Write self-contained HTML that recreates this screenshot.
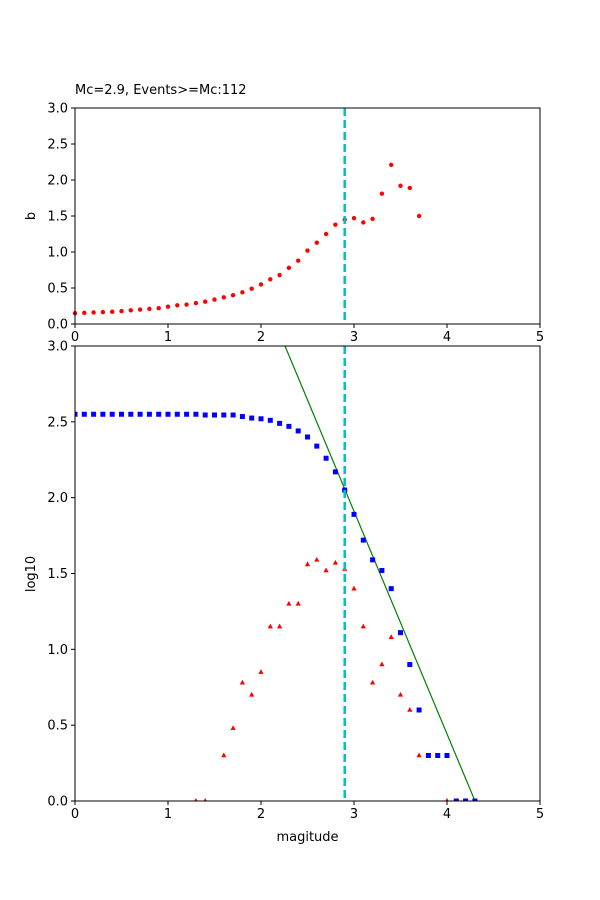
<!DOCTYPE html>
<html><head><meta charset="utf-8"><style>
body{margin:0;background:#fff;}
svg{display:block;font-family:"DejaVu Sans","Liberation Sans",sans-serif;}
text{font-size:13px;fill:#000;}
</style></head><body>
<svg id="s" width="600" height="900" xmlns="http://www.w3.org/2000/svg">
<rect width="600" height="900" fill="#fff"/>
<g id="top"></g><g id="bot"></g>
<text x="75" y="94" style="font-size:13px">Mc=2.9, Events&gt;=Mc:112</text>
<text transform="translate(35,216) rotate(-90)" text-anchor="middle">b</text>
<text transform="translate(35,574) rotate(-90)" text-anchor="middle">log10</text>
<text x="307.5" y="841" text-anchor="middle">magitude</text>
</svg>
<script>
const NS="http://www.w3.org/2000/svg",s=document.getElementById('s');
function el(t,a,p){const e=document.createElementNS(NS,t);for(const k in a)e.setAttribute(k,a[k]);(p||s).appendChild(e);return e;}
const X=v=>75+v*93;
function axes(y0,y1,ticks){ // y0 top px(3.0), y1 bottom px(0)
 const Y=v=>y1-(y1-y0)*v/3;
 for(let i=0;i<=5;i++){el('line',{x1:X(i),x2:X(i),y1:y1,y2:y1+4,stroke:'#000'});const t=el('text',{x:X(i),y:y1+17,'text-anchor':'middle'});t.textContent=i;}
 for(let v=0;v<=3.001;v+=0.5){el('line',{x1:71,x2:75,y1:Y(v),y2:Y(v),stroke:'#000'});const t=el('text',{x:68,y:Y(v)+4.5,'text-anchor':'end'});t.textContent=v.toFixed(1);}
 return Y;
}
const Yt=axes(108,324);
const b=[0.15,0.155,0.16,0.165,0.17,0.18,0.19,0.2,0.21,0.22,0.24,0.26,0.27,0.29,0.31,0.34,0.37,0.40,0.44,0.49,0.55,0.62,0.68,0.78,0.88,1.02,1.13,1.25,1.38,1.45,1.47,1.41,1.46,1.81,2.21,1.92,1.89,1.50];
b.forEach((v,i)=>el('circle',{cx:X(i/10),cy:Yt(v),r:2.2,fill:'red'}));
el('line',{x1:X(2.9),x2:X(2.9),y1:108,y2:324,stroke:'#00bfbf','stroke-width':2.5,'stroke-dasharray':'8,4'});
el('rect',{x:75,y:108,width:465,height:216,fill:'none',stroke:'#000','stroke-width':1});
const Yb=axes(346,801);
const cp=document.createElementNS(NS,'clipPath');cp.id='c';s.appendChild(cp);el('rect',{x:75,y:346,width:465,height:455},cp);
const g=el('g',{'clip-path':'url(#c)'});
el('line',{x1:285,y1:346,x2:475,y2:801,stroke:'green','stroke-width':1.2},g);
const bl=[2.55,2.55,2.55,2.55,2.55,2.55,2.55,2.55,2.55,2.55,2.55,2.55,2.55,2.55,2.545,2.545,2.545,2.545,2.535,2.525,2.52,2.51,2.49,2.47,2.44,2.40,2.34,2.26,2.17,2.05,1.89,1.72,1.59,1.52,1.40,1.11,0.90,0.60,0.30,0.30,0.30,0,0,0];
bl.forEach((v,i)=>el('rect',{x:X(i/10)-2.5,y:Yb(v)-2.5,width:5,height:5,fill:'blue'},g));
const tr=[[1.3,0],[1.4,0],[1.6,0.30],[1.7,0.48],[1.8,0.78],[1.9,0.70],[2.0,0.85],[2.1,1.15],[2.2,1.15],[2.3,1.30],[2.4,1.30],[2.5,1.56],[2.6,1.59],[2.7,1.52],[2.8,1.57],[2.9,1.53],[3.0,1.40],[3.1,1.15],[3.2,0.78],[3.3,0.90],[3.4,1.08],[3.5,0.70],[3.6,0.60],[3.7,0.30],[4.0,0]];
tr.forEach(([x,v])=>{const cx=X(x),cy=Yb(v);el('polygon',{points:`${cx},${cy-3} ${cx-2.6},${cy+1.8} ${cx+2.6},${cy+1.8}`,fill:'red'},g);});
el('line',{x1:X(2.9),x2:X(2.9),y1:346,y2:801,stroke:'#00bfbf','stroke-width':2.5,'stroke-dasharray':'8,4'});
el('rect',{x:75,y:346,width:465,height:455,fill:'none',stroke:'#000','stroke-width':1});
</script>
</body></html>
